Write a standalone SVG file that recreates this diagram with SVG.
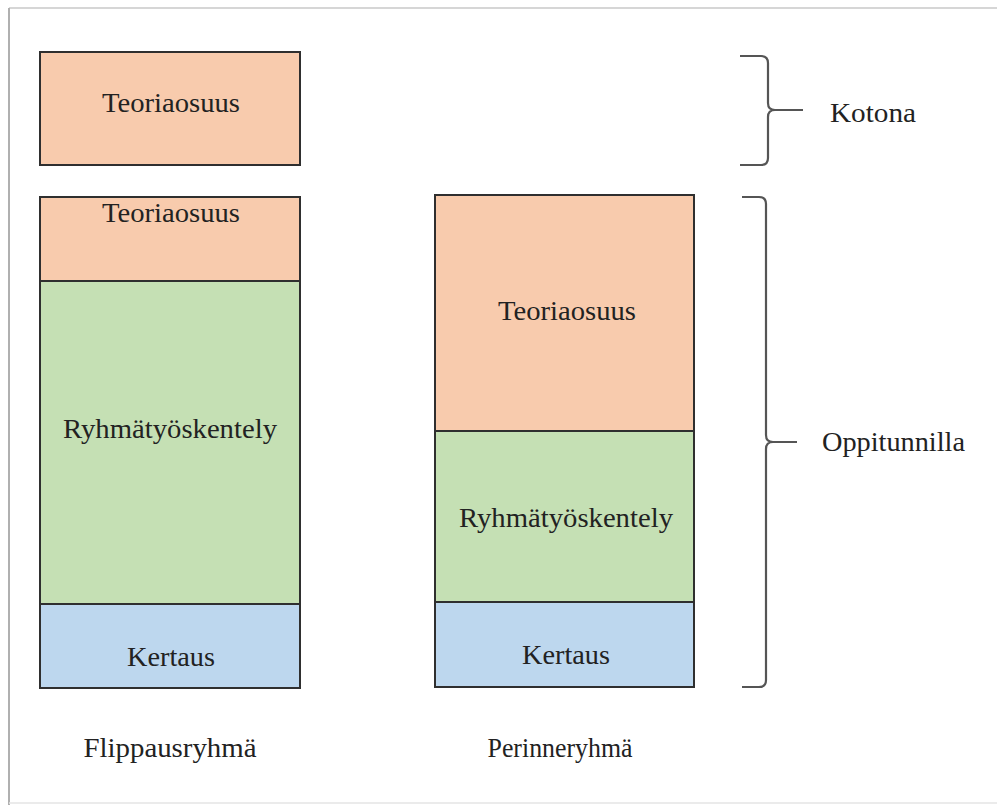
<svg xmlns="http://www.w3.org/2000/svg" width="997" height="805" viewBox="0 0 997 805">
<style>
.box{stroke:#2f2f2f;stroke-width:2}
.peach{fill:#F8CBAD}
.green{fill:#C5E0B4}
.blue{fill:#BDD7EE}
text{font-family:"Liberation Serif","Times New Roman",serif;font-size:27px;fill:#222}
.in{text-anchor:middle}
.brace{fill:none;stroke:#555;stroke-width:2.2}
</style>
<rect x="0" y="0" width="997" height="805" fill="#fff"/>
<g id="frame">
<line x1="9" y1="8" x2="997" y2="8" stroke="#c8c8c8" stroke-width="1.5"/>
<line x1="9" y1="8" x2="9" y2="805" stroke="#b0b0b0" stroke-width="2"/>
<line x1="9" y1="803" x2="997" y2="803" stroke="#e4e4e4" stroke-width="1.5"/>
</g>
<g id="flip-kotona">
<rect class="box peach" x="40" y="52" width="260" height="113"/>
<text class="in" x="171" y="112" textLength="138" lengthAdjust="spacingAndGlyphs">Teoriaosuus</text>
</g>
<g id="flip-teoria">
<rect class="box peach" x="40" y="197" width="260" height="84"/>
<text class="in" x="171" y="222" textLength="138" lengthAdjust="spacingAndGlyphs">Teoriaosuus</text>
</g>
<g id="flip-ryhma">
<rect class="box green" x="40" y="281" width="260" height="323"/>
<text class="in" x="170" y="438" textLength="214" lengthAdjust="spacingAndGlyphs">Ryhmätyöskentely</text>
</g>
<g id="flip-kertaus">
<rect class="box blue" x="40" y="604" width="260" height="84"/>
<text class="in" x="171" y="666" textLength="88" lengthAdjust="spacingAndGlyphs">Kertaus</text>
</g>
<g id="per-teoria">
<rect class="box peach" x="435" y="195" width="259" height="236"/>
<text class="in" x="567" y="320" textLength="138" lengthAdjust="spacingAndGlyphs">Teoriaosuus</text>
</g>
<g id="per-ryhma">
<rect class="box green" x="435" y="431" width="259" height="171"/>
<text class="in" x="566" y="527" textLength="214" lengthAdjust="spacingAndGlyphs">Ryhmätyöskentely</text>
</g>
<g id="per-kertaus">
<rect class="box blue" x="435" y="602" width="259" height="85"/>
<text class="in" x="566" y="664" textLength="88" lengthAdjust="spacingAndGlyphs">Kertaus</text>
</g>
<g id="labels">
<text class="in" x="170" y="757" textLength="173" lengthAdjust="spacingAndGlyphs">Flippausryhmä</text>
<text class="in" x="560" y="757" textLength="145" lengthAdjust="spacingAndGlyphs">Perinneryhmä</text>
</g>
<g id="connectors">
<path class="brace" d="M740,56 L761,56 Q768,56 768,63 L768,103 Q768,110 775,110 L803,110 M775,110 Q768,110 768,117 L768,158 Q768,165 761,165 L740,165"/>
<path class="brace" d="M742,197 L759,197 Q766,197 766,204 L766,435 Q766,442 773,442 L797,442 M773,442 Q766,442 766,449 L766,680 Q766,687 759,687 L742,687"/>
</g>
<g id="kotona">
<text x="830" y="122" textLength="86" lengthAdjust="spacingAndGlyphs">Kotona</text>
</g>
<g id="oppitunnilla">
<text x="822" y="451" textLength="143" lengthAdjust="spacingAndGlyphs">Oppitunnilla</text>
</g>
</svg>
